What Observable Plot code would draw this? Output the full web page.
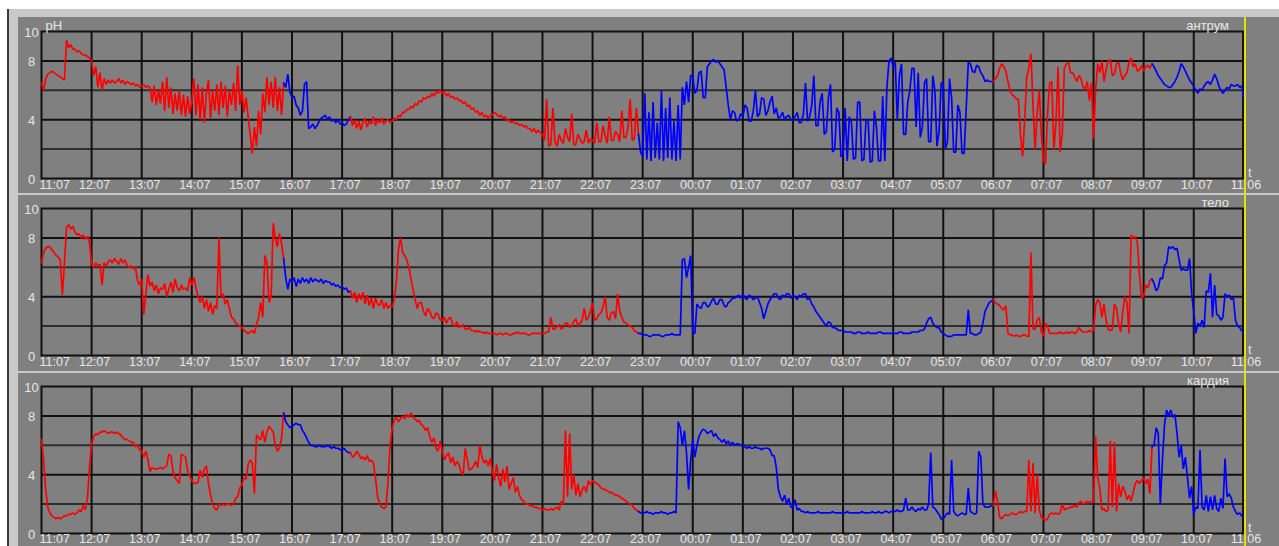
<!DOCTYPE html>
<html><head><meta charset="utf-8">
<script src="https://cdn.jsdelivr.net/npm/d3@7"></script>
<script src="https://cdn.jsdelivr.net/npm/@observablehq/plot@0.6"></script>
<style>
html,body{margin:0;padding:0;background:#fff;overflow:hidden;width:1279px;height:546px}
#frame{position:absolute;left:7px;top:9px;width:1272px;height:537px;background:#c9c9c9;border-left:2px solid #3a3a3a;box-sizing:border-box}
.panel{position:absolute;left:18px}
.panel svg{display:block}
</style></head><body>
<div id="frame"></div>
<div id="p0" class="panel" style="top:17px"></div>
<div id="p1" class="panel" style="top:195px"></div>
<div id="p2" class="panel" style="top:373px"></div>
<script>
// one sample every 2.5 minutes, starting at 11:07 (one row = one hour)
const stepMinutes = 2.5;

const tickLabels = ["11:07","12:07","13:07","14:07","15:07","16:07","17:07","18:07","19:07","20:07","21:07","22:07","23:07","00:07","01:07","02:07","03:07","04:07","05:07","06:07","07:07","08:07","09:07","10:07","11:06"];
const tickMinutes = [0,60,120,180,240,300,360,420,480,540,600,660,720,780,840,900,960,1020,1080,1140,1200,1260,1320,1380,1439];
const yTickValues = [0,4,8,10];
const panelNames = ["антрум","тело","кардия"];

// recording periods (start minute) and their colours
const periodStart = [0, 290, 370, 715, 1140, 1330];
const periodColor = ["#ff0000","#0000ff","#ff0000","#0000ff","#ff0000","#0000ff"];

const antrum = [
6.5,6.0,6.8,7.1,7.2,7.3,7.2,7.1,7.0,6.9,6.8,6.7,9.4,8.9,9.1,8.8,8.8,8.6,8.7,8.5,8.4,8.4,8.3,8.2,
8.0,7.0,7.6,6.2,7.2,6.0,6.8,6.4,6.7,6.5,6.7,6.5,6.6,6.8,6.5,6.7,6.4,6.6,6.5,6.4,6.5,6.3,6.4,6.2,
6.3,6.4,6.2,6.3,6.2,5.2,6.3,5.0,6.0,5.1,6.6,4.6,6.9,4.8,6.2,4.4,5.8,4.6,6.0,4.3,5.7,4.2,5.6,4.4,
5.2,6.8,4.3,6.4,4.0,6.2,3.8,5.8,6.7,4.1,6.0,4.6,6.4,4.3,6.6,4.8,6.3,4.2,6.0,5.0,6.5,4.6,7.7,5.0,
6.0,4.5,5.5,4.2,3.0,1.7,3.5,2.2,4.6,3.0,5.8,4.5,6.9,5.0,6.6,4.8,6.9,4.6,6.2,4.3,6.5,6.2,7.1,5.9,
5.5,5.6,5.0,4.8,4.3,4.6,6.4,6.6,3.4,3.5,3.7,3.4,3.6,3.9,4.1,4.2,4.3,4.0,4.2,3.9,4.0,3.8,4.0,3.7,
3.8,3.6,3.7,4.0,4.2,3.6,4.0,3.4,3.9,3.3,3.8,4.1,3.5,3.9,3.7,4.2,3.6,4.0,3.8,4.1,3.7,3.9,4.0,3.8,
3.9,4.1,4.0,4.3,4.2,4.5,4.5,4.7,4.7,4.9,4.8,5.1,5.0,5.3,5.2,5.5,5.4,5.6,5.5,5.8,5.6,5.9,5.8,6.0,
5.8,5.9,5.6,5.8,5.5,5.6,5.4,5.5,5.3,5.3,5.1,5.2,4.9,5.0,4.7,4.8,4.5,4.6,4.3,4.5,4.2,4.3,4.1,4.3,
4.3,4.5,4.4,4.2,4.3,4.1,4.2,3.9,4.0,3.8,3.9,3.7,3.8,3.6,3.7,3.5,3.6,3.4,3.4,3.2,3.4,3.1,3.3,3.1,
3.0,2.6,5.4,2.2,2.3,4.8,2.5,2.2,3.0,2.6,2.4,3.4,2.8,2.5,4.4,2.3,2.3,3.0,2.7,2.4,2.5,3.3,2.4,2.7,
2.6,2.4,3.8,2.5,2.5,3.6,2.9,2.4,4.2,2.6,2.6,3.2,3.0,2.5,4.6,2.8,2.8,3.5,5.4,2.6,2.7,4.8,3.0,1.8,
1.5,5.8,1.3,4.5,1.2,5.2,1.4,3.8,1.3,6.0,1.2,4.8,1.4,5.5,1.3,3.9,1.2,5.0,1.3,6.2,5.0,6.6,5.2,7.0,
7.0,5.8,6.0,7.2,7.3,5.5,5.5,7.6,7.8,8.0,8.1,7.9,8.0,7.8,7.6,7.4,6.2,5.0,4.0,4.6,4.5,3.9,4.0,4.4,
4.2,5.0,4.8,3.9,3.9,4.6,6.0,4.2,4.4,5.5,5.4,4.3,4.6,5.2,5.6,4.4,4.8,4.1,4.2,4.5,4.0,4.2,4.3,4.0,
4.0,4.2,4.5,3.8,3.8,4.4,6.5,3.9,4.2,5.0,7.0,3.6,3.6,5.2,5.8,3.0,3.2,5.5,6.4,1.8,2.0,4.8,4.5,1.5,
1.5,4.8,1.2,4.2,3.8,1.3,1.4,5.2,5.2,1.2,1.3,4.0,4.0,1.1,1.2,4.6,3.5,1.2,1.2,5.6,1.2,6.2,8.0,8.2,
7.6,7.9,4.0,7.0,7.8,3.0,3.0,5.2,6.0,7.5,7.5,3.5,7.2,2.8,3.5,6.5,6.8,2.5,2.5,7.0,6.0,2.2,3.2,6.5,
6.5,2.0,2.5,6.8,5.5,1.8,1.8,5.0,4.5,1.7,1.7,4.8,7.9,7.8,7.3,7.2,7.7,7.6,7.2,7.0,6.6,6.7,6.6,6.6,
6.6,6.8,7.0,7.5,7.8,7.6,7.3,6.6,6.0,5.7,5.6,5.4,5.4,3.0,1.5,4.0,6.9,7.5,8.5,5.0,2.0,4.5,6.0,3.0,
1.2,1.0,4.5,6.5,6.6,2.0,3.8,7.6,1.8,3.0,7.5,7.8,7.9,7.2,7.2,6.9,6.6,7.0,6.8,6.2,6.1,6.6,5.3,6.5,
2.7,6.0,7.8,7.2,8.0,6.6,7.4,8.0,8.1,7.0,7.1,7.8,7.9,7.2,6.7,7.0,7.2,7.9,8.2,7.6,7.8,7.3,7.4,7.7,
7.3,7.6,7.7,7.5,7.8,7.6,7.3,7.0,6.8,6.6,6.4,6.3,6.2,6.2,6.4,6.6,6.9,7.3,7.8,7.6,7.3,7.0,6.7,6.5,
6.3,6.0,5.8,6.1,6.0,6.3,6.5,6.6,6.4,6.7,7.1,6.8,6.3,6.0,5.8,6.0,6.2,6.1,6.4,6.3,6.3,6.4,6.2,6.3,
5.4];

const telo = [
6.3,7.0,7.3,7.4,7.4,7.2,7.0,6.8,6.7,6.5,4.1,6.3,8.7,8.9,8.6,8.8,8.4,8.2,8.3,8.0,8.2,7.9,8.1,7.7,
6.2,6.0,6.3,6.1,6.2,4.8,6.3,6.1,6.4,6.5,6.3,6.6,6.4,6.2,6.6,6.3,6.5,6.1,6.0,6.1,5.9,6.0,5.1,4.8,
5.2,2.8,4.2,5.5,4.7,5.0,4.4,4.8,4.2,4.6,4.5,4.9,4.0,4.5,5.0,4.3,5.2,4.6,4.4,4.8,4.5,4.6,4.4,5.3,
4.8,5.3,4.6,4.0,3.6,4.0,3.2,3.8,3.0,3.6,2.8,3.4,3.2,8.0,4.0,4.2,3.5,3.8,3.2,2.6,2.5,2.2,2.1,2.0,
1.9,1.7,1.6,1.5,1.6,1.7,1.5,2.1,2.6,3.6,2.6,6.8,6.3,3.6,4.0,9.0,8.0,7.4,8.3,7.6,6.6,5.3,4.5,5.2,
5.0,5.3,4.7,5.2,4.9,5.3,5.0,5.2,4.9,5.3,5.0,5.2,5.1,5.0,5.2,4.9,5.1,5.0,5.0,4.8,4.9,4.7,4.8,4.6,
4.7,4.5,4.6,4.3,4.4,3.9,4.3,3.6,4.2,3.8,4.3,3.5,4.1,3.4,3.9,3.2,3.9,3.5,3.4,3.8,3.2,3.6,3.2,3.4,
3.3,3.8,5.0,7.2,8.0,7.0,6.8,6.5,6.0,5.2,4.5,3.8,3.2,3.6,3.6,3.0,2.7,3.2,3.0,2.6,2.5,2.9,2.8,2.4,
2.4,2.6,2.2,2.5,2.6,2.1,2.0,2.3,1.9,2.0,2.1,1.8,1.8,1.9,1.7,1.7,1.6,1.7,1.6,1.6,1.5,1.6,1.5,1.5,
1.5,1.5,1.4,1.5,1.5,1.4,1.5,1.5,1.4,1.4,1.5,1.5,1.6,1.5,1.5,1.5,1.5,1.4,1.4,1.5,1.5,1.5,1.5,1.5,
1.5,1.5,1.6,1.6,2.6,1.8,1.8,2.0,2.1,1.8,1.9,2.2,2.2,1.9,2.0,2.3,2.5,2.0,2.2,2.4,3.2,2.4,2.6,3.0,
3.6,2.4,2.5,2.8,2.9,3.3,4.0,2.6,2.4,2.9,3.0,2.5,4.2,3.0,2.6,2.3,2.2,2.1,2.0,1.9,1.7,1.6,1.5,1.5,
1.4,1.4,1.4,1.3,1.3,1.4,1.4,1.4,1.4,1.3,1.3,1.4,1.4,1.4,1.5,1.4,1.4,1.4,1.4,6.5,6.6,5.3,6.0,6.8,
1.6,1.5,3.5,3.3,3.2,3.6,3.6,3.3,3.4,3.7,3.9,3.5,3.5,3.8,3.8,3.4,3.3,3.6,3.7,3.9,3.9,4.0,4.1,3.9,
4.2,3.9,3.8,4.1,4.0,3.8,3.9,4.0,3.6,3.2,2.5,3.0,3.5,3.8,4.0,4.2,4.2,3.9,3.8,4.1,4.0,4.2,4.2,3.9,
4.1,4.0,3.8,4.1,4.0,4.2,4.2,3.8,3.9,3.5,3.3,3.0,2.8,2.6,2.4,2.2,2.0,2.3,2.2,1.9,1.9,1.8,1.7,1.7,
1.7,1.6,1.6,1.6,1.6,1.5,1.5,1.6,1.6,1.5,1.5,1.5,1.6,1.5,1.5,1.5,1.5,1.6,1.6,1.5,1.5,1.5,1.5,1.5,
1.5,1.5,1.5,1.6,1.6,1.5,1.5,1.5,1.5,1.6,1.6,1.6,1.6,1.7,1.7,1.8,2.2,2.5,2.6,2.2,2.0,1.9,1.9,1.6,
1.5,1.4,1.3,1.3,1.3,1.4,1.4,1.4,1.4,1.4,1.4,1.4,3.1,1.5,1.5,1.4,1.4,1.5,1.6,2.2,3.0,3.3,3.6,3.7,
3.8,3.6,3.5,3.4,3.2,3.1,3.4,1.5,1.4,1.4,1.3,1.4,1.3,1.3,1.4,1.4,1.3,1.3,7.0,1.8,1.8,2.4,2.6,1.6,
1.3,2.2,2.0,1.5,1.5,1.5,1.5,1.5,1.6,1.5,1.5,1.6,1.5,1.6,1.6,1.5,1.6,1.9,1.7,1.6,1.6,1.6,1.7,1.6,
1.7,3.4,3.8,3.6,2.6,3.5,2.4,1.8,1.7,1.8,3.5,3.2,2.2,1.6,3.0,4.0,3.6,1.5,8.2,8.0,8.1,7.7,5.5,3.9,
4.0,4.8,4.6,5.1,5.2,4.9,4.4,4.6,5.3,5.2,6.1,6.3,7.4,7.3,7.4,7.2,7.3,6.5,5.8,5.9,5.8,5.8,6.6,4.2,
3.0,1.5,2.2,2.0,2.4,1.9,4.4,4.3,5.6,2.6,4.8,2.8,2.7,2.4,2.6,4.2,4.0,4.1,3.8,3.9,2.4,2.0,1.9,1.7,
1.5];

const kardia = [
6.4,5.0,3.0,1.8,1.4,1.2,1.1,1.0,1.1,1.0,1.1,1.2,1.2,1.3,1.3,1.4,1.3,1.4,1.6,1.5,1.9,1.6,2.4,4.5,
6.1,6.6,6.8,6.7,6.9,6.9,7.0,6.9,6.8,6.9,6.9,6.8,6.9,6.8,6.7,6.5,6.4,6.4,6.3,6.2,6.2,5.9,6.0,5.7,
5.6,5.2,5.6,5.0,4.2,4.5,4.4,4.4,4.4,4.5,4.4,4.5,4.6,5.4,5.3,4.2,3.8,3.6,3.4,5.4,5.3,5.2,4.3,3.9,
3.6,3.4,3.4,3.5,4.3,3.8,4.4,4.6,3.4,2.6,2.0,1.7,1.6,2.0,1.9,2.0,1.9,2.0,2.0,1.9,2.0,2.4,2.5,3.1,
3.3,3.8,3.7,4.7,5.0,4.8,2.7,6.7,6.5,6.4,7.0,6.2,6.9,7.3,7.1,6.9,6.0,5.6,5.8,6.5,8.2,7.6,7.4,7.2,
7.3,7.4,7.5,7.4,7.4,7.0,6.8,6.5,6.2,6.0,6.0,5.9,5.9,6.0,5.9,5.9,5.9,6.0,5.9,5.8,5.9,5.8,5.8,5.7,
5.7,5.8,5.6,5.5,5.5,5.2,5.3,5.6,5.4,5.1,5.2,5.0,5.3,4.9,5.0,4.8,3.8,2.5,2.0,1.8,1.7,1.8,3.5,6.0,
7.2,7.7,7.9,7.6,7.8,8.0,7.8,8.1,7.9,8.2,7.9,7.8,7.6,7.7,7.4,7.3,7.0,7.2,6.6,6.2,6.5,5.8,5.6,6.3,
5.6,5.0,5.3,5.5,4.8,5.2,4.6,4.9,4.7,4.2,4.0,5.8,5.0,4.3,4.4,4.6,4.9,4.5,6.0,5.2,4.8,5.0,4.6,5.1,
4.2,3.6,4.7,3.8,3.2,4.4,3.5,4.6,3.0,3.4,3.8,2.8,3.2,2.6,2.3,2.2,2.0,2.0,1.9,1.9,1.8,1.8,1.7,1.7,
1.6,1.7,1.6,1.6,1.7,1.6,1.7,1.8,1.6,2.2,2.0,7.0,2.5,6.8,3.0,4.0,2.6,3.4,2.5,3.0,3.2,2.8,3.6,3.3,
3.6,3.5,3.4,3.3,3.1,3.0,3.0,2.9,2.8,2.8,2.7,2.6,2.6,2.5,2.4,2.3,2.2,2.1,2.0,1.9,1.7,1.6,1.5,1.4,
1.4,1.4,1.5,1.4,1.4,1.3,1.4,1.4,1.4,1.5,1.4,1.4,1.3,1.4,1.4,1.5,1.4,7.6,7.2,6.0,7.0,5.5,3.0,5.0,
6.4,5.2,6.0,6.6,6.9,7.1,7.0,6.8,6.9,7.0,6.6,6.8,6.5,6.4,6.2,6.4,6.1,6.3,6.0,6.2,6.0,6.1,6.1,6.0,
6.0,5.9,5.8,5.9,5.8,5.8,5.9,5.8,5.8,5.7,5.8,5.8,5.8,5.7,5.3,5.3,4.5,3.0,2.5,2.2,2.6,2.0,2.4,1.8,
1.8,2.3,1.6,1.7,1.5,1.5,1.4,1.5,1.4,1.4,1.4,1.4,1.5,1.4,1.4,1.4,1.4,1.4,1.4,1.5,1.4,1.4,1.4,1.4,
1.4,1.4,1.5,1.4,1.4,1.4,1.4,1.4,1.4,1.5,1.4,1.4,1.4,1.4,1.5,1.4,1.4,1.5,1.4,1.4,1.5,1.5,1.4,1.5,
1.5,1.5,1.6,1.5,1.5,1.6,2.4,1.6,1.6,1.8,1.6,1.5,1.7,1.6,1.8,1.6,1.6,2.0,5.5,1.8,1.7,1.5,1.3,1.0,
1.0,1.2,1.4,1.3,5.0,1.5,1.3,1.2,1.3,1.4,1.3,1.3,3.1,1.5,1.4,1.3,1.4,5.6,5.2,2.0,1.8,1.8,1.8,1.9,
1.9,2.9,2.2,1.1,1.0,1.2,1.3,1.2,1.3,1.4,1.3,1.3,1.4,1.5,1.4,1.5,1.5,5.0,1.5,4.8,1.4,4.0,1.6,1.1,
1.0,0.9,1.0,1.3,1.4,1.3,1.4,1.3,1.4,2.0,1.6,1.7,1.7,1.8,1.8,1.9,1.8,2.1,2.2,2.0,2.1,2.2,2.1,2.2,
2.1,6.6,3.8,3.1,1.6,1.7,1.5,1.6,6.3,1.8,6.2,1.5,3.4,2.5,3.2,2.9,2.3,2.6,2.2,2.8,3.4,3.6,3.4,3.6,
3.8,3.4,3.7,2.7,5.9,6.0,7.2,6.8,2.0,5.0,7.4,8.4,8.0,8.4,7.9,8.1,6.8,5.2,6.0,4.4,5.2,3.8,2.4,3.2,
1.3,1.8,1.7,5.7,1.8,1.6,2.6,1.5,2.5,1.6,2.6,1.7,1.5,2.4,1.7,5.1,2.5,2.7,2.4,1.8,1.5,1.3,1.4,1.2,
1.1];

function toSegments(values) {
  const out = [];
  periodStart.forEach((s, k) => {
    const e = k + 1 < periodStart.length ? periodStart[k + 1] : Infinity;
    values.forEach((v, i) => {
      const t = i * stepMinutes;
      if (t >= s && t <= e) out.push({t, v, seg: k, color: periodColor[k]});
    });
  });
  return out;
}

const panels = [
  {id: "p0", name: panelNames[0], values: antrum, height: 176, mt: 14, mb: 15, ph: true,  labelDy: 2},
  {id: "p1", name: panelNames[1], values: telo,   height: 176, mt: 13, mb: 16, ph: false, labelDy: 2},
  {id: "p2", name: panelNames[2], values: kardia, height: 173, mt: 13, mb: 13, ph: false, labelDy: 1}
];

const txt = "#e6e6e6";
panels.forEach(p => {
  const data = toSegments(p.values);
  const marks = [
    Plot.ruleY([2, 6], {stroke: "#2e2e2e", strokeWidth: 2}),
    Plot.ruleY([4, 8], {stroke: "#111", strokeWidth: 2}),
    Plot.ruleX(tickMinutes.slice(1, -1), {stroke: "#111", strokeWidth: 2}),
    Plot.frame({stroke: "#111", strokeWidth: 2}),
    Plot.line(data, {x: "t", y: "v", z: "seg", stroke: "color", strokeWidth: 1.7, strokeLinejoin: "miter"}),
    Plot.text(yTickValues, {y: d => d, text: d => String(d), frameAnchor: "left", dx: -10, dy: 1, textAnchor: "middle", fill: txt}),
    Plot.text(tickLabels.slice(0, 1), {x: tickMinutes[0], text: d => d, frameAnchor: "bottom", lineAnchor: "top", textAnchor: "start", dx: -2, dy: p.labelDy, fill: txt, fontSize: 12.5}),
    Plot.text(tickLabels.slice(1), {x: (d, i) => tickMinutes[i + 1], text: d => d, frameAnchor: "bottom", lineAnchor: "top", dx: 3, dy: p.labelDy, fill: txt, fontSize: 12.5}),
    Plot.text([p.name], {frameAnchor: "top-right", textAnchor: "end", lineAnchor: "bottom", dx: -14, dy: -2, fill: txt}),
    Plot.text(["t"], {frameAnchor: "bottom-right", textAnchor: "start", lineAnchor: "bottom", dx: 5, dy: -2, fill: txt}),
    Plot.ruleX([1439], {dx: 2, y1: -3, y2: 13, stroke: "#e2e200", strokeWidth: 2})
  ];
  if (p.ph) marks.splice(marks.length - 1, 0, Plot.text(["pH"], {frameAnchor: "top-left", textAnchor: "start", lineAnchor: "bottom", dx: 4, dy: -2, fill: txt}));
  const chart = Plot.plot({
    width: 1261,
    height: p.height,
    marginLeft: 23,
    marginRight: 36.5,
    marginTop: p.mt,
    marginBottom: p.mb,
    x: {domain: [0, 1439], axis: null},
    y: {domain: [0, 10], axis: null},
    color: {type: "identity"},
    style: {background: "#808080", fontFamily: "'Liberation Sans', Arial, sans-serif", fontSize: "13px", color: txt},
    marks
  });
  document.getElementById(p.id).appendChild(chart);
});
</script>
</body></html>
